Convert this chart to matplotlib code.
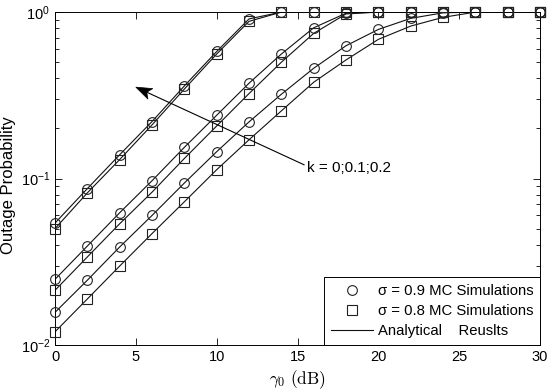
import numpy as np
import matplotlib
matplotlib.use("Agg")
import matplotlib.pyplot as plt
from matplotlib.lines import Line2D
from matplotlib.patches import Polygon
from matplotlib.transforms import IdentityTransform

plt.rcParams['font.family'] = ['Liberation Sans', 'DejaVu Sans']
plt.rcParams['mathtext.fontset'] = 'cm'

gamma_db = [0, 2, 4, 6, 8, 10, 12, 14, 16, 18, 20, 22, 24, 26, 28, 30]

# k = 0.2
k02_s09 = [0.054, 0.087, 0.139, 0.22, 0.36, 0.58, 0.91, 1, 1, 1, 1, 1, 1, 1, 1, 1]
k02_s08 = [0.050, 0.082, 0.130, 0.21, 0.345, 0.56, 0.88, 1, 1, 1, 1, 1, 1, 1, 1, 1]
# k = 0.1
k01_s09 = [0.0248, 0.0393, 0.0623, 0.097, 0.154, 0.24, 0.374, 0.56, 0.805, 0.985, 1, 1, 1, 1, 1, 1]
k01_s08 = [0.0213, 0.0338, 0.0535, 0.0828, 0.132, 0.207, 0.324, 0.50, 0.745, 0.975, 1, 1, 1, 1, 1, 1]
# k = 0
k0_s09 = [0.0157, 0.0245, 0.0388, 0.060, 0.094, 0.145, 0.219, 0.321, 0.46, 0.628, 0.787, 0.917, 0.99, 1, 1, 1]
k0_s08 = [0.0120, 0.0189, 0.0298, 0.0467, 0.0725, 0.113, 0.171, 0.255, 0.379, 0.516, 0.686, 0.824, 0.93, 1, 1, 1]

# annotation arrow (tip and tail, data coords)
arrow_tip = (5.0, 0.354)
arrow_tail = (15.4, 0.121)

fig = plt.figure(figsize=(5.5, 3.9), dpi=100)
ax = fig.add_axes([0.1, 0.1154, 0.882, 0.8536])

lc = '#111111'
mc = '#222222'
for ys, mk in [(k02_s09, 'o'), (k02_s08, 's'), (k01_s09, 'o'), (k01_s08, 's'),
               (k0_s09, 'o'), (k0_s08, 's')]:
    ax.plot(gamma_db, ys, '-', color=lc, lw=0.8, zorder=2)
    ax.plot(gamma_db, ys, linestyle='none', marker=mk, markersize=7,
            markerfacecolor='none', markeredgecolor=mc, markeredgewidth=0.8,
            clip_on=False, zorder=3)

ax.set_yscale('log')
ax.set_xlim(0, 30)
ax.set_ylim(1e-2, 1)
ax.set_xticks([0, 5, 10, 15, 20, 25, 30])
ax.tick_params(which='both', direction='in', top=True, right=True, labelsize=10.5)
ax.tick_params(which='major', length=5, width=0.6)
ax.tick_params(which='minor', length=3, width=0.6)
for s in ax.spines.values():
    s.set_linewidth(0.7)

ax.set_xlabel(r'$\gamma_0\ \mathrm{(dB)}$', fontsize=12.5, labelpad=3)
ax.set_ylabel('Outage Probability', fontsize=12)
ax.yaxis.set_label_coords(-0.080, 0.48)

# arrow: line + barbed head drawn in pixel space
fig.canvas.draw()
tip = ax.transData.transform(arrow_tip)
tail = ax.transData.transform(arrow_tail)
u = (tail - tip) / np.hypot(*(tail - tip))
n = np.array([-u[1], u[0]])
L, W, notch = 16.0, 5.8, 4.0
head = [tip, tip + u * L + n * W, tip + u * (L - notch), tip + u * L - n * W]
fig.add_artist(Line2D([tail[0], tip[0] + u[0] * (L - notch)],
                      [tail[1], tip[1] + u[1] * (L - notch)],
                      color='k', lw=0.8, transform=IdentityTransform()))
fig.add_artist(Polygon(head, closed=True, facecolor='k', edgecolor='k', lw=0.5,
                       transform=IdentityTransform()))

ax.text(15.6, 0.116, 'k = 0;0.1;0.2', fontsize=11, va='center', ha='left')

handles = [
    Line2D([], [], linestyle='none', marker='o', markersize=7, markerfacecolor='none',
           markeredgecolor=mc, markeredgewidth=0.8),
    Line2D([], [], linestyle='none', marker='s', markersize=7, markerfacecolor='none',
           markeredgecolor=mc, markeredgewidth=0.8),
    Line2D([], [], color=lc, lw=0.8),
]
labels = ['\u03c3 = 0.9 MC Simulations', '\u03c3 = 0.8 MC Simulations',
          'Analytical    Reuslts']
leg = ax.legend(handles, labels, loc='lower right', fontsize=10.7, fancybox=False,
                framealpha=1, edgecolor='k', borderaxespad=0, handlelength=2.8,
                handletextpad=0.35, labelspacing=0.42, borderpad=0.45)
leg.get_frame().set_linewidth(0.7)

fig.savefig('out.png', dpi=100)
